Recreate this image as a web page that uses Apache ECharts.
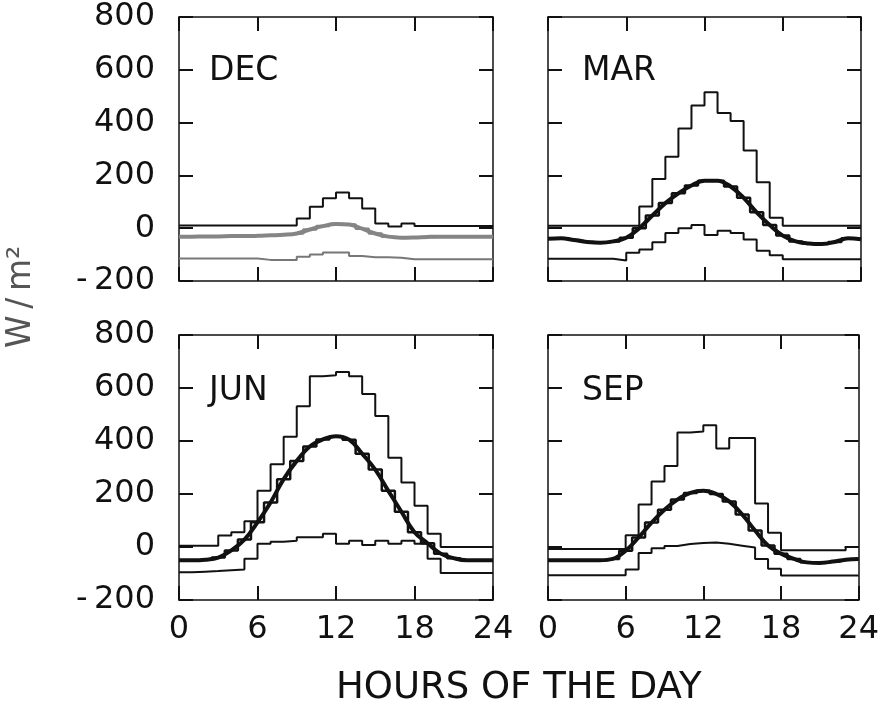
<!DOCTYPE html>
<html>
<head>
<meta charset="utf-8">
<script src="https://cdn.jsdelivr.net/npm/echarts@6/dist/echarts.min.js"></script>
<style>
  html, body { margin: 0; padding: 0; background: #fff; }
  #chart { width: 882px; height: 708px; }
</style>
</head>
<body>
<div id="chart"></div>
<script>
// hour of the day for each value (0..24)
const hours = [0, 1, 2, 3, 4, 5, 6, 7, 8, 9, 10, 11, 12, 13, 14, 15, 16, 17, 18, 19, 20, 21, 22, 23, 24]
const months = ['DEC', 'MAR', 'JUN', 'SEP']

// hourly maximum / minimum (W/m2), one value per hour 0..23
const decUpper = [10, 10, 10, 10, 10, 10, 10, 10, 10, 37, 81, 113, 135, 113, 75, 18, 6, 18, 8, 8, 8, 8, 8, 8]
const decLower = [-115, -115, -115, -115, -115, -115, -120, -120, -120, -108, -100, -92, -92, -105, -110, -110, -112, -118, -118, -118, -118, -118, -118, -118]
const marUpper = [9, 9, 9, 9, 9, 9, 9, 82, 186, 271, 378, 465, 515, 436, 406, 294, 174, 40, 9, 9, 9, 9, 9, 9]
const marLower = [-116, -116, -116, -116, -116, -122, -93, -81, -53, -18, 0, 12, -26, -10, -18, -43, -85, -102, -118, -118, -118, -118, -118, -118]
const junUpper = [5, 5, 5, 43, 56, 97, 212, 312, 416, 531, 644, 648, 660, 644, 577, 494, 337, 243, 156, 50, 0, 0, 0, 0]
const junLower = [-95, -93, -91, -88, -85, -44, 12, 20, 24, 37, 37, 50, 12, 24, 8, 24, 12, 24, 12, -44, -98, -98, -98, -98]
const sepUpper = [-8, -8, -8, -8, -8, -8, 44, 160, 247, 306, 432, 436, 459, 372, 411, 411, 164, 54, -12, -12, -12, -12, -12, 0]
const sepLower = [-107, -107, -107, -107, -107, -107, -85, -23, -5, 4, 11, 15, 17, 12, 5, -2, -45, -82, -108, -108, -108, -108, -108, -108]

// mean diurnal curve, hours 0..24
const decMean = [-32, -32, -31, -31, -30, -30, -29, -27, -25, -20, -5, 8, 16, 14, -2, -20, -32, -36, -35, -33, -32, -32, -32, -32, -32]
const marMean = [-40, -38, -45, -52, -55, -50, -36, 0, 48, 95, 132, 162, 180, 180, 158, 115, 60, 12, -28, -50, -58, -60, -52, -38, -42]
const junMean = [-50, -50, -48, -40, -13, 28, 93, 168, 256, 325, 379, 406, 418, 405, 352, 292, 212, 133, 56, 14, -25, -42, -50, -50, -50]
const sepMean = [-50, -50, -50, -50, -50, -45, -14, 36, 92, 141, 179, 204, 212, 200, 172, 123, 62, 6, -25, -45, -58, -60, -55, -48, -45]

const panels = [
  { name: months[0], upper: decUpper, lower: decLower, mean: decMean, left: 179, top: 17, width: 314, height: 264, meanColor: '#858585' },
  { name: months[1], upper: marUpper, lower: marLower, mean: marMean, left: 548, top: 17, width: 313, height: 264, meanColor: '#111' },
  { name: months[2], upper: junUpper, lower: junLower, mean: junMean, left: 179, top: 335, width: 314, height: 265, meanColor: '#111' },
  { name: months[3], upper: sepUpper, lower: sepLower, mean: sepMean, left: 548, top: 335, width: 313, height: 265, meanColor: '#111' }
]

const font = 'DejaVu Sans'
const ink = '#111'

function stepPoints(arr) {
  const pts = arr.map((v, i) => [hours[i], v])
  pts.push([hours[arr.length], arr[arr.length - 1]])
  return pts
}

const grid = [], xAxis = [], yAxis = [], series = [], graphic = []

panels.forEach((p, i) => {
  grid.push({ left: p.left, top: p.top, width: p.width, height: p.height })
  const showX = i >= 2
  const showY = i % 2 === 0
  const line = { show: true, onZero: false, lineStyle: { color: ink, width: 1.5 } }
  const tick = { show: true, inside: true, length: 14, lineStyle: { color: ink, width: 2 } }
  // bottom + top x axes
  xAxis.push({
    gridIndex: i, type: 'value', min: 0, max: 24, interval: 6, position: 'bottom',
    axisLine: line, axisTick: tick, splitLine: { show: false },
    axisLabel: { show: showX, margin: 14, color: ink, fontFamily: font, fontSize: 32 }
  })
  xAxis.push({
    gridIndex: i, type: 'value', min: 0, max: 24, interval: 6, position: 'top',
    axisLine: line, axisTick: tick, splitLine: { show: false }, axisLabel: { show: false }
  })
  // left + right y axes
  yAxis.push({
    gridIndex: i, type: 'value', min: -200, max: 800, interval: 200, position: 'left',
    axisLine: line, axisTick: tick, splitLine: { show: false },
    axisLabel: {
      show: showY, margin: 24, color: ink, fontFamily: font, fontSize: 32,
      formatter: v => (v < 0 ? '-\u2009' + Math.abs(v) : String(v))
    }
  })
  yAxis.push({
    gridIndex: i, type: 'value', min: -200, max: 800, interval: 200, position: 'right',
    axisLine: line, axisTick: tick, splitLine: { show: false }, axisLabel: { show: false }
  })

  const xi = i * 2, yi = i * 2
  series.push({
    type: 'line', xAxisIndex: xi, yAxisIndex: yi, step: 'end', symbol: 'none',
    data: stepPoints(p.upper), lineStyle: { color: ink, width: 2 }, z: 3
  })
  series.push({
    type: 'line', xAxisIndex: xi, yAxisIndex: yi, step: 'end', symbol: 'none',
    data: stepPoints(p.lower), lineStyle: { color: i === 0 ? '#777' : ink, width: 2 }, z: 3
  })
  series.push({
    type: 'line', xAxisIndex: xi, yAxisIndex: yi, step: 'middle', symbol: 'none',
    data: p.mean.map((v, h) => [hours[h], v]), lineStyle: { color: p.meanColor, width: 2.5 }, z: 4
  })
  series.push({
    type: 'line', xAxisIndex: xi, yAxisIndex: yi, smooth: 0.4, symbol: 'none',
    data: p.mean.map((v, h) => [hours[h], v]), lineStyle: { color: p.meanColor, width: 4 }, z: 5
  })

  graphic.push({
    type: 'text', left: p.left + (i % 2 === 0 ? 30 : 34), top: p.top + (i < 2 ? 38 : 40),
    style: { text: p.name, fontFamily: font, fontSize: 33, fill: ink }
  })
})

graphic.push({
  type: 'text', left: 336, top: 670,
  style: { text: 'HOURS OF THE DAY', fontFamily: font, fontSize: 37, fill: ink }
})
graphic.push({
  type: 'text', x: 5, y: 348, rotation: Math.PI / 2,
  style: { text: 'W\u2009/\u2009m²', fontFamily: font, fontSize: 33, fill: '#555' }
})

const chart = echarts.init(document.getElementById('chart'))
chart.setOption({
  animation: false,
  backgroundColor: '#fff',
  grid, xAxis, yAxis, series, graphic
})
</script>
</body>
</html>
